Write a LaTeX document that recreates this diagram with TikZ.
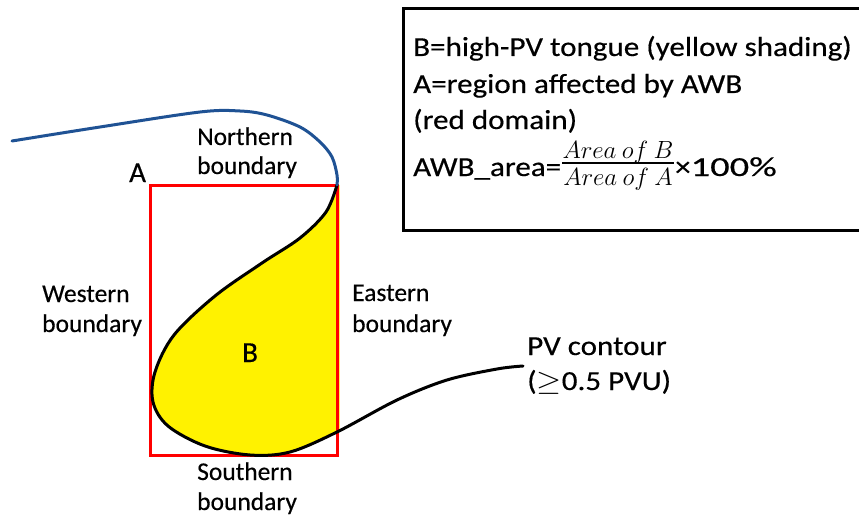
\documentclass[tikz,border=0pt]{standalone}
\usepackage{fontspec}
\setmainfont{Carlito}[FakeBold=0.4]
\usepackage{graphicx}
\definecolor{pvblue}{RGB}{31,82,148}
\newcommand{\wide}[1]{\scalebox{1.13}[1]{#1}}
\tikzset{
  lbl/.style={anchor=base west, inner sep=0pt, font=\fontsize{25.5}{30}\selectfont},
  big/.style={anchor=base west, inner sep=0pt, font=\fontsize{27.5}{33}\selectfont},
  letter/.style={anchor=base west, inner sep=0pt, font=\fontsize{29}{34}\selectfont},
  fracpart/.style={anchor=base, inner sep=0pt, font=\fontsize{24}{28}\selectfont},
  contour/.style={line width=3pt, line cap=round, line join=round},
}
\begin{document}
\begin{tikzpicture}[x=1pt,y=-1pt]
\useasboundingbox (0,0) rectangle (859,516);

% shaded high-PV tongue, cut at the eastern edge of the domain
\begin{scope}
  \clip (140,180) rectangle (339.5,470);
  \fill[yellow] plot[smooth, tension=0.55] coordinates {
    (337,185) (326,212) (300,238) (262,263) (215,296) (174,335) (155,372)
    (153,402) (168,426) (205,446) (250,455) (290,452) (337,432) (397,400)
    (447,380) (497,369) (523,366)} -- (523,185) -- cycle;
\end{scope}

% domain A
\node[draw=red, line width=3pt, minimum width=187pt, minimum height=270pt,
      inner sep=0pt] (domain) at (243.5,320) {};

% PV contour
\draw[contour, black] plot[smooth, tension=0.55] coordinates {
    (337,185) (326,212) (300,238) (262,263) (215,296) (174,335) (155,372)
    (153,402) (168,426) (205,446) (250,455) (290,452) (337,432) (397,400)
    (447,380) (497,369) (523,366)};
\draw[contour, pvblue] plot[smooth, tension=0.55] coordinates {
    (12,141) (100,127) (200,112) (240,111) (267,115) (300,127) (320,142)
    (332,157) (337,175) (337,185)};

% boundary labels
\node[lbl] (north1) at (197,145) {Northern};
\node[lbl] (north2) at (197,174) {boundary};
\node[lbl] (west1) at (42,302) {Western};
\node[lbl] (west2) at (42,332) {boundary};
\node[lbl] (east1) at (352,301) {Eastern};
\node[lbl] (east2) at (352,332) {boundary};
\node[lbl] (south1) at (197,480) {Southern};
\node[lbl] (south2) at (197,510) {boundary};

\node[letter] (labA) at (129,182) {A};
\node[letter] (labB) at (242,362) {B};

\node[big] (pv1) at (527,355) {\wide{PV contour}};
\node[big] (pv2) at (527,390) {\wide{(\scalebox{1.15}{$\geq$}0.5 PVU)}};

% legend box
\node[draw, line width=3pt, minimum width=467pt, minimum height=221pt,
      inner sep=0pt] (legend) at (636.5,119.5) {};
\node[big] (leg1) at (413,56) {\wide{B=high-PV tongue (yellow shading)}};
\node[big] (leg2) at (413,93) {\wide{A=region affected by AWB}};
\node[big] (leg3) at (413,129) {\wide{(red domain)}};
\node[big] (leg4) at (413,176) {\wide{AWB\_area=}};
\node[fracpart] (num) at (618,158) {$Area\ of\ B$};
\node[fracpart] (den) at (618,185) {$Area\ of\ A$};
\draw[line width=1.4pt] (num.south west |- 0,163) -- (num.south east |- 0,163);
\node[big] (pct) at (675,176) {\wide{×}\scalebox{1.4}[1]{100\%}};
\end{tikzpicture}
\end{document}
